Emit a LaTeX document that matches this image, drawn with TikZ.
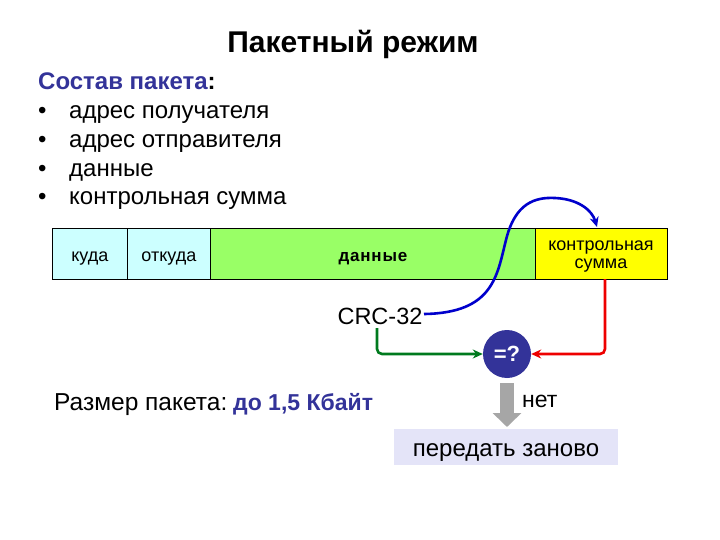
\documentclass[tikz,border=0pt]{standalone}
\usepackage{fontspec}
\setmainfont{Liberation Sans}
\usetikzlibrary{arrows.meta}
\definecolor{dblue}{HTML}{333399}
\definecolor{cellcyan}{HTML}{CCFFFF}
\definecolor{cellgreen}{HTML}{99FF66}
\definecolor{cellyellow}{HTML}{FFFF00}
\definecolor{boxlav}{HTML}{E4E4F8}
\definecolor{arrgreen}{HTML}{007A1E}
\definecolor{arrred}{HTML}{EE0000}
\definecolor{arrblue}{HTML}{0000CC}
\definecolor{arrgray}{HTML}{A6A6A6}
\tikzset{
  txt/.style={inner sep=0pt, anchor=base west, font=\fontsize{24}{27}\selectfont},
  cell/.style={draw=black, line width=0.8pt, minimum height=51pt, inner sep=0pt, anchor=north west, align=center, text height=17pt, text depth=2pt, font=\fontsize{18}{20}\selectfont},
  ctxt/.style={inner sep=0pt, anchor=base, font=\fontsize{18}{20}\selectfont},
  conn/.style={line width=2.6pt, rounded corners=5pt, -{Stealth[length=10pt,width=9pt]}},
}
\begin{document}
\begin{tikzpicture}[x=1pt,y=-1pt]
\useasboundingbox (0,0) rectangle (720,540);
\fill[white] (0,0) rectangle (720,540);
% title
\node[inner sep=0pt, anchor=base, font=\fontsize{30}{34}\selectfont\bfseries] (title) at (353,53) {Пакетный режим};
% list
\node[txt, font=\fontsize{24}{27}\selectfont\bfseries] (head) at (38,90) {\textcolor{dblue}{Состав пакета}:};
\node[txt] (b1) at (38,119) {•};
\node[txt] (l1) at (69,119) {адрес получателя};
\node[txt] (b2) at (38,148) {•};
\node[txt] (l2) at (69,148) {адрес отправителя};
\node[txt] (b3) at (38,177) {•};
\node[txt] (l3) at (69,177) {данные};
\node[txt] (b4) at (38,205) {•};
\node[txt] (l4) at (69,205) {контрольная сумма};
% packet
\node[cell, fill=cellcyan, minimum width=75pt] (c1) at (52,228) {куда};
\node[cell, fill=cellcyan, minimum width=83pt] (c2) at (127,228) {откуда};
\node[cell, fill=cellgreen, minimum width=325pt, font=\fontsize{17}{20}\selectfont\bfseries] (c3) at (210,228) {д\hspace{0.8pt}а\hspace{0.8pt}н\hspace{0.8pt}н\hspace{0.8pt}ы\hspace{0.8pt}е};
\node[cell, fill=cellyellow, minimum width=132pt] (c4) at (535,228) {};
\node[ctxt] (c4a) at (601,250) {контрольная};
\node[ctxt] (c4b) at (601,268) {сумма};
% CRC
\node[inner sep=0pt, font=\fontsize{23.5}{26}\selectfont] (crc) at (380,316) {CRC-32};
\coordinate (crcR) at (424,314);
\coordinate (tgt) at (597,227);
\draw[arrblue, line width=2.6pt, -{Stealth[length=10pt,width=9pt]}] (crcR) .. controls (494,313) and (497,275) .. (506,240) .. controls (515,203) and (535,197) .. (555,198) .. controls (578,199) and (592,210) .. (tgt);
% compare circle
\node[circle, fill=dblue, minimum size=48pt, inner sep=0pt, text=white, font=\fontsize{22}{24}\selectfont\bfseries] (eq) at (507,354) {=?};
\draw[conn, arrgreen] (377,328) |- (eq.west);
\draw[conn, arrred] (605,279) |- (eq.east);
% result
\node[fill=boxlav, minimum width=224pt, minimum height=36pt, inner sep=0pt, text height=22pt, text depth=4pt, font=\fontsize{24}{27}\selectfont] (resend) at (506,447) {передать заново};
\coordinate (gtop) at (507,383);
\coordinate (gtip) at (507,427);
\draw[arrgray, line width=14pt, -{Triangle[length=14pt,width=28pt]}] (gtop) -- (gtip);
\node[txt, font=\fontsize{23}{26}\selectfont] (net) at (522,407) {нет};
\node[txt, font=\fontsize{24.5}{27}\selectfont] (size) at (54,410) {Размер пакета:};
\node[txt, font=\fontsize{23}{26}\selectfont\bfseries, text=dblue] (sizev) at (233,410) {до 1,5 Кбайт};
\end{tikzpicture}
\end{document}
